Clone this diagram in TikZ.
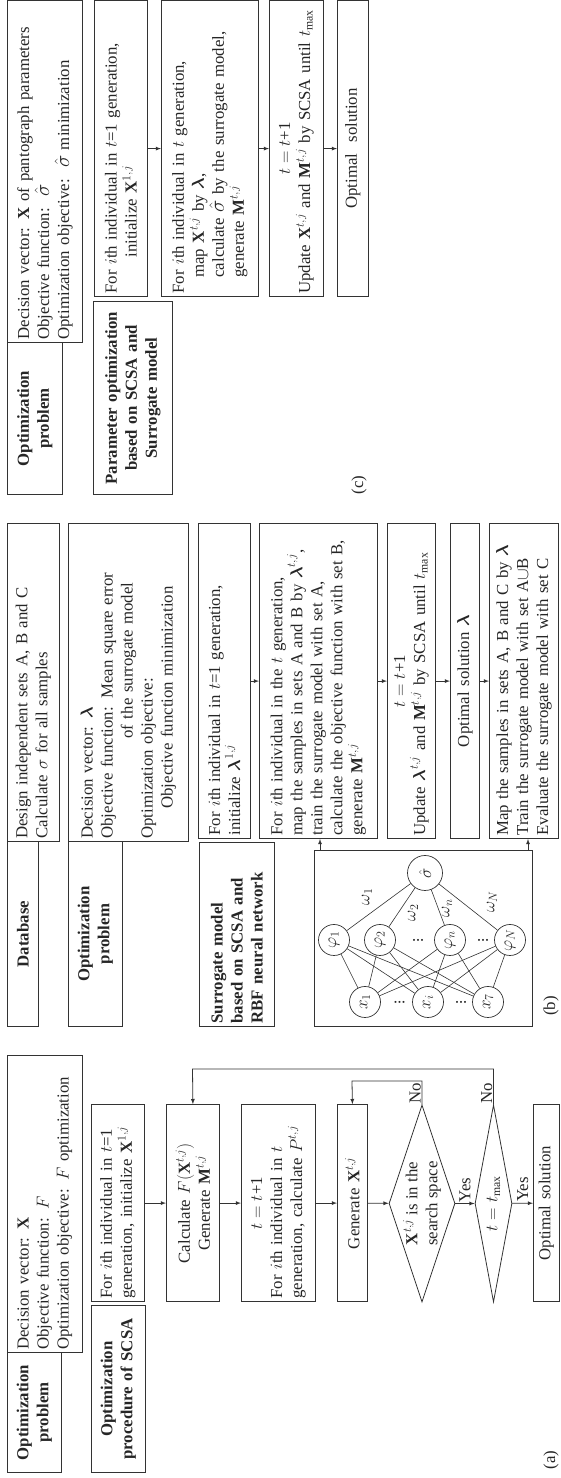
\documentclass[tikz,border=0pt]{standalone}
\usepackage{amsmath}
\usepackage{fontspec}
\setmainfont{Liberation Serif}
\usetikzlibrary{shapes.geometric,calc}

\begin{document}
\begin{tikzpicture}[x=1pt, y=-1pt, rotate=90, transform shape,
    every node/.style={font=\fontsize{16.8}{20}\selectfont, text=black!85},
    box/.style={rectangle, draw=black!80, line width=0.8pt, inner xsep=3pt, inner ysep=2pt, anchor=north west, align=left},
    cbox/.style={box, align=center},
    head/.style={box, align=center, font=\fontsize{16.8}{20}\selectfont\bfseries},
    decision/.style={diamond, draw=black!80, line width=0.8pt, inner sep=0pt},
    neuron/.style={circle, draw=black!80, line width=0.7pt, minimum size=31pt, inner sep=0pt},
    arrow/.style={draw=black!80, line width=0.8pt, -latex},
    link/.style={draw=black!80, line width=0.6pt},
    note/.style={inner sep=1pt}
  ]
  \useasboundingbox (0,0) rectangle (1478,560);

  % (a) SCSA
  \node[head, minimum width=120pt, minimum height=54pt, text width=114pt] (opA) at (5,7) {Optimization\\problem};
  \node[box, minimum width=297pt, minimum height=75pt, text width=291pt] (decA) at (125,7) {Decision vector: $\mathbf{X}$\\Objective function: $F$\\Optimization objective: $F$ optimization};
  \node[head, minimum width=167pt, minimum height=54pt, text width=161pt] (procA) at (5,91) {Optimization\\procedure of SCSA};
  \node[box, minimum width=197pt, minimum height=53pt, text width=191pt] (initA) at (176,91) {For $i$th individual in $t$=1\\generation, initialize $\mathbf{X}^{1,j}$};
  \node[cbox, minimum width=197pt, minimum height=53pt, text width=191pt] (calcA) at (176,166) {Calculate $F(\mathbf{X}^{t,j})$\\Generate $\mathbf{M}^{t,j}$};
  \node[box, minimum width=197pt, minimum height=74pt, text width=191pt] (stepA) at (176,241) {\makebox[\linewidth]{$t=t$+1}\\For $i$th individual in $t$\\generation, calculate $P^{t,j}$};
  \node[cbox, minimum width=197pt, minimum height=30pt, text width=191pt] (genA) at (176,337) {Generate $\mathbf{X}^{t,j}$};
  \node[decision, minimum width=197pt, minimum height=66pt] (chkA) at (274.5,422) {};
  \node[note, align=center] (chkAtxt) at (chkA) {$\mathbf{X}^{t,j}$ is in the\\search space};
  \node[decision, minimum width=197pt, minimum height=37pt] (endA) at (274.5,493.5) {};
  \node[note] (endAtxt) at (endA) {$t=t_{\max}$};
  \node[cbox, minimum width=197pt, minimum height=26pt, text width=191pt] (optA) at (176,533) {Optimal solution};
  \node[note] (labA) at (18,551) {(a)};

  \draw[arrow] (initA) -- (calcA);
  \draw[arrow] (calcA) -- (stepA);
  \draw[arrow] (stepA) -- (genA);
  \draw[arrow] (genA) -- (chkA);
  \draw[arrow] (chkA) -- node[note, right] (yesA1) {Yes} (endA);
  \draw[arrow] (endA) -- node[note, right] (yesA2) {Yes} (optA);
  \coordinate (noA1) at (397,422);
  \coordinate (noA1up) at (397,352);
  \draw[arrow] (chkA.east) -- (noA1) -- (noA1up) -- (genA.east);
  \coordinate (noA2) at (409,493.5);
  \coordinate (noA2up) at (409,192.5);
  \draw[arrow] (endA.east) -- (noA2) -- (noA2up) -- (calcA.east);
  \node[note, anchor=south west] (noA1txt) at (chkA.east) {No};
  \node[note, anchor=south west] (noA2txt) at (endA.east) {No};

  % (b) surrogate model
  \node[head, minimum width=185pt, minimum height=31pt, text width=179pt] (dbB) at (451,7) {Database};
  \node[box, minimum width=318pt, minimum height=52pt, text width=312pt] (setB) at (636,7) {Design independent sets A, B and C\\Calculate $\sigma$ for all samples};
  \node[head, minimum width=185pt, minimum height=54pt, text width=179pt] (opB) at (451,68) {Optimization\\problem};
  \node[box, minimum width=318pt, minimum height=120pt, text width=312pt] (decB) at (636,68) {Decision vector: $\boldsymbol{\lambda}$\\Objective function: Mean square error\\\hspace*{100pt}of the surrogate model\\Optimization objective:\\\hspace*{30pt}Objective function minimization};
  \node[head, align=left, minimum width=184pt, minimum height=75pt, text width=178pt] (surB) at (451,199) {Surrogate model\\based on SCSA and\\RBF neural network};
  \node[box, minimum width=315pt, minimum height=52pt, text width=309pt] (initB) at (639,198) {For $i$th individual in $t$=1 generation,\\initialize $\boldsymbol{\lambda}^{1,j}$};
  \node[box, minimum width=315pt, minimum height=118pt, text width=309pt] (evalB) at (639,259) {For $i$th individual in the $t$ generation,\\map the samples in sets A and B by $\boldsymbol{\lambda}^{t,j}$,\\train the surrogate model with set A,\\calculate the objective function with set B,\\generate $\mathbf{M}^{t,j}$};
  \node[box, minimum width=315pt, minimum height=48pt, text width=309pt] (stepB) at (639,387) {\makebox[\linewidth]{$t=t$+1}\\Update $\boldsymbol{\lambda}^{t,j}$ and $\mathbf{M}^{t,j}$ by SCSA until $t_{\max}$};
  \node[cbox, minimum width=315pt, minimum height=29pt, text width=309pt] (optB) at (639,450) {Optimal solution $\boldsymbol{\lambda}$};
  \node[box, minimum width=315pt, minimum height=69pt, text width=309pt] (mapB) at (639,489) {Map the samples in sets A, B and C by $\boldsymbol{\lambda}$\\Train the surrogate model with set A$\cup$B\\Evaluate the surrogate model with set C};
  \node[note] (labB) at (472,551) {(b)};

  \draw[arrow] (initB) -- (evalB);
  \draw[arrow] (evalB) -- (stepB);
  \draw[arrow] (stepB) -- (optB);
  \draw[arrow] (optB) -- (mapB);

  % RBF network
  \node[box, minimum width=176pt, minimum height=218pt] (nnB) at (451,314) {};
  \node[neuron] (x1) at (476,365) {$x_1$};
  \node[neuron] (xi) at (476,428) {$x_i$};
  \node[neuron] (x7) at (476,488) {$x_7$};
  \node[neuron] (p1) at (538,334) {$\varphi_1$};
  \node[neuron] (p2) at (538,380) {$\varphi_2$};
  \node[neuron] (pn) at (538,450) {$\varphi_n$};
  \node[neuron] (pN) at (538,510) {$\varphi_N$};
  \node[neuron, minimum size=35pt] (sig) at (605,425) {$\hat{\sigma}$};
  \node[note] (dx1) at (476,396.5) {$\vdots$};
  \node[note] (dx2) at (476,458) {$\vdots$};
  \node[note] (dp1) at (538,415) {$\vdots$};
  \node[note] (dp2) at (538,480) {$\vdots$};
  \foreach \a in {x1,xi,x7}
    \foreach \b in {p1,p2,pn,pN}
      \draw[link] (\a) -- (\b);
  \foreach \b in {p1,p2,pn,pN}
    \draw[link] (\b) -- (sig);
  \node[note] (w1) at (581,367) {$\omega_1$};
  \node[note] (w2) at (565,413) {$\omega_2$};
  \node[note] (wn) at (570,447) {$\omega_n$};
  \node[note] (wN) at (576,492) {$\omega_N$};
  \coordinate (nnout1) at (627,320);
  \coordinate (nnout2) at (627,528);
  \draw[arrow] (nnout1) -- ($(evalB.north west)!(nnout1)!(evalB.south west)$);
  \draw[arrow] (nnout2) -- ($(mapB.north west)!(nnout2)!(mapB.south west)$);

  % (c) parameter optimization
  \node[head, minimum width=152pt, minimum height=55pt, text width=146pt] (opC) at (983,7) {Optimization\\problem};
  \node[box, minimum width=342pt, minimum height=75pt, text width=336pt] (decC) at (1135,7) {Decision vector: $\mathbf{X}$ of pantograph parameters\\Objective function:\ \ {\fontsize{22}{20}\selectfont$\hat{\sigma}$}\\Optimization objective:\ \ {\fontsize{22}{20}\selectfont$\hat{\sigma}$} minimization};
  \node[head, minimum width=193pt, minimum height=79pt, text width=187pt] (parC) at (983,93) {Parameter optimization\\based on SCSA and\\Surrogate model};
  \node[box, minimum width=296pt, minimum height=53pt, text width=290pt] (initC) at (1181,94) {For $i$th individual in $t$=1 generation,\\\hspace*{36pt}initialize $\mathbf{X}^{1,j}$};
  \node[box, minimum width=296pt, minimum height=97pt, text width=290pt] (evalC) at (1181,161) {For $i$th individual in $t$ generation,\\\hspace*{16pt}map $\mathbf{X}^{t,j}$ by $\boldsymbol{\lambda}$,\\\hspace*{16pt}calculate {\fontsize{20}{20}\selectfont$\hat{\sigma}$} by the surrogate model,\\\hspace*{16pt}generate $\mathbf{M}^{t,j}$};
  \node[box, minimum width=296pt, minimum height=54pt, text width=290pt] (stepC) at (1181,269) {\makebox[\linewidth]{$t=t$+1}\\Update $\mathbf{X}^{t,j}$ and $\mathbf{M}^{t,j}$ by SCSA until $t_{\max}$};
  \node[cbox, minimum width=296pt, minimum height=31pt, text width=290pt] (optC) at (1181,337) {Optimal\ \ solution};
  \node[note] (labC) at (993,359) {(c)};

  \draw[arrow] (initC) -- (evalC);
  \draw[arrow] (evalC) -- (stepC);
  \draw[arrow] (stepC) -- (optC);

\end{tikzpicture}
\end{document}
